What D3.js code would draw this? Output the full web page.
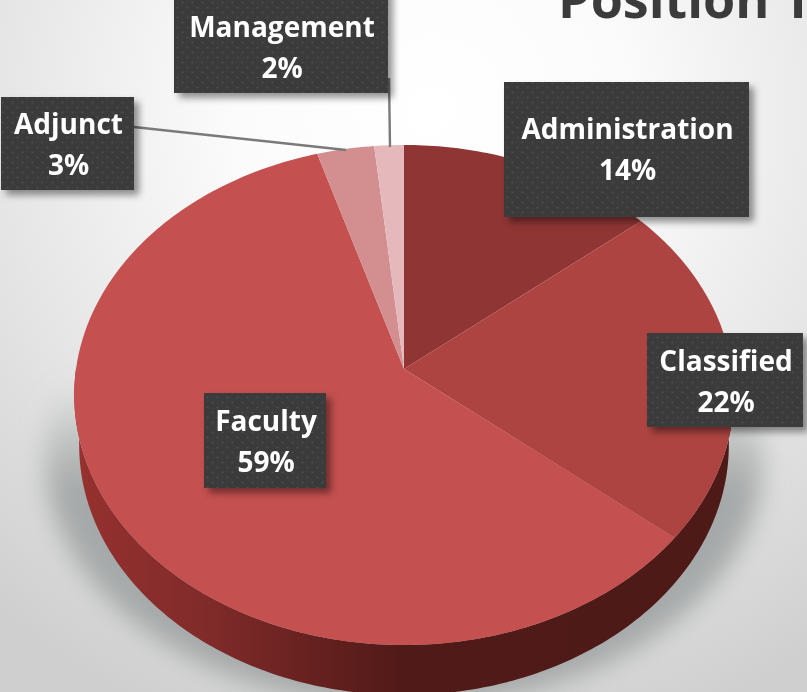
<!DOCTYPE html>
<html><head><meta charset="utf-8">
<script src="https://cdnjs.cloudflare.com/ajax/libs/d3/7.8.5/d3.min.js"></script>
<style>html,body{margin:0;padding:0;background:#e8e8e8;overflow:hidden}svg{display:block}</style>
</head><body><div id="chart"></div>
<script>
const categories = ["Administration","Classified","Faculty","Adjunct","Management"];
const values = [14,22,59.3,3.1,1.6];
const colors = ["#8f3534","#ad4441","#c4504f","#d38e90","#e5b8bc"];
const titleText = "Position T";

const W=807,H=692;
const boxes = {
  Administration:[504,82,749,217],
  Classified:[647,333,803,427],
  Faculty:[204,393,326,488],
  Adjunct:[1,97,134,190],
  Management:[174,-20,388,93]
};
const leaders = {Adjunct:[[134,127],[346,150]],Management:[[389,78],[390,147]]};

const svg=d3.select("#chart").append("svg").attr("width",W).attr("height",H).attr("viewBox",[0,0,W,H]);
const defs=svg.append("defs");
const bg=defs.append("radialGradient").attr("id","bg").attr("gradientUnits","userSpaceOnUse")
  .attr("cx",430).attr("cy",110).attr("r",660);
[[0,"#ffffff"],[0.3,"#fbfbfb"],[0.65,"#e6e6e6"],[1,"#cfcfcf"]].forEach(s=>bg.append("stop").attr("offset",s[0]).attr("stop-color",s[1]));
const wall=defs.append("linearGradient").attr("id","wall").attr("gradientUnits","userSpaceOnUse")
  .attr("x1",75).attr("x2",735).attr("y1",0).attr("y2",0);
[[0,"#96312f"],[0.2,"#802b2a"],[0.38,"#63201e"],[0.5,"#501a18"],[1,"#4d1a18"]].forEach(s=>wall.append("stop").attr("offset",s[0]).attr("stop-color",s[1]));
const shG=defs.append("linearGradient").attr("id","shG").attr("gradientUnits","userSpaceOnUse")
  .attr("x1",0).attr("x2",0).attr("y1",385).attr("y2",490);
shG.append("stop").attr("offset",0).attr("stop-color","#a6a9a9").attr("stop-opacity",0);
shG.append("stop").attr("offset",1).attr("stop-color","#a6a9a9").attr("stop-opacity",1);
defs.append("filter").attr("id","blur").attr("x","-20%").attr("y","-20%").attr("width","140%").attr("height","140%")
  .append("feGaussianBlur").attr("stdDeviation",13);
const soft=defs.append("filter").attr("id","soft");
soft.append("feGaussianBlur").attr("stdDeviation",0.45);
const ds=defs.append("filter").attr("id","ds").attr("x","-15%").attr("y","-15%").attr("width","130%").attr("height","130%");
ds.append("feDropShadow").attr("dx",5).attr("dy",5).attr("stdDeviation",3.5).attr("flood-color","#000").attr("flood-opacity",0.42);
const pat=defs.append("pattern").attr("id","dots").attr("width",10).attr("height",10).attr("patternUnits","userSpaceOnUse");
pat.append("rect").attr("width",10).attr("height",10).attr("fill","#3a3a3b");
pat.append("circle").attr("cx",2.5).attr("cy",2.5).attr("r",1.1).attr("fill","#4b4c4d");
pat.append("circle").attr("cx",7.5).attr("cy",7.5).attr("r",1.1).attr("fill","#4b4c4d");

svg.append("rect").attr("width",W).attr("height",H).attr("fill","url(#bg)");

svg.append("text").attr("x",558).attr("y",18).attr("font-family","'Open Sans', sans-serif").attr("font-weight",700)
  .attr("font-size",52).attr("fill","#3b3b3b").attr("filter","url(#soft)").text(titleText);

const cx=404,cy=369,A=247.3,B=328,k=0.104;
const proj=(theta,r=1,dy=0)=>{
  const u=r*Math.sin(theta),v=-r*Math.cos(theta),w=1-k*v;
  return [cx+B*u/w,cy+A*v/w+dy];
};
const line=d3.line();
const sample=(a0,a1,dy=0)=>d3.range(0,1.0001,1/Math.max(8,Math.ceil((a1-a0)*60))).map(t=>proj(a0+(a1-a0)*t,1,dy));
const scaleX=(pts,s)=>pts.map(p=>[cx+(p[0]-cx)*s,p[1]]);

const pie=d3.pie().sort(null).value(d=>d)(values);
const color=d3.scaleOrdinal(categories,colors);

svg.append("path").attr("d",line(scaleX(sample(0,2*Math.PI,62),1.09))+"Z")
  .attr("fill","url(#shG)").attr("filter","url(#blur)");

const g=svg.append("g");
const rim=sample(Math.PI*0.5,Math.PI*1.5), depth=50;
g.append("path").attr("d",line(rim.concat(scaleX(sample(Math.PI*0.5,Math.PI*1.5,depth),0.985).reverse()))+"Z")
  .attr("fill","url(#wall)");
g.selectAll("path.slice").data(pie).join("path").attr("class","slice")
  .attr("d",d=>line([[cx,cy],...sample(d.startAngle,d.endAngle)])+"Z")
  .attr("fill",(d,i)=>color(categories[i]));

Object.values(leaders).forEach(l=>svg.append("path").attr("d",line(l)).attr("fill","none").attr("stroke","#7a7a7a").attr("stroke-width",2.4));

const lab=svg.selectAll("g.lab").data(pie).join("g").attr("class","lab");
lab.append("rect")
  .attr("x",(d,i)=>boxes[categories[i]][0]).attr("y",(d,i)=>boxes[categories[i]][1])
  .attr("width",(d,i)=>boxes[categories[i]][2]-boxes[categories[i]][0])
  .attr("height",(d,i)=>boxes[categories[i]][3]-boxes[categories[i]][1])
  .attr("fill","url(#dots)").attr("filter","url(#ds)");
const mid={Administration:[129,170],Classified:[361,402],Faculty:[421,462],Adjunct:[124,165],Management:[27,68]};
lab.each(function(d,i){
  const c=categories[i],b=boxes[c],x=(b[0]+b[2])/2+1;
  const t=d3.select(this).append("text").attr("text-anchor","middle").attr("fill","#fff")
    .attr("font-family","'Open Sans', sans-serif").attr("font-weight",700).attr("font-size",28).attr("filter","url(#soft)");
  t.append("tspan").attr("x",x).attr("y",mid[c][0]).attr("dy","0.35em").text(c);
  t.append("tspan").attr("x",x).attr("y",mid[c][1]).attr("dy","0.35em").text(Math.round(d.value)+"%");
});
</script></body></html>
